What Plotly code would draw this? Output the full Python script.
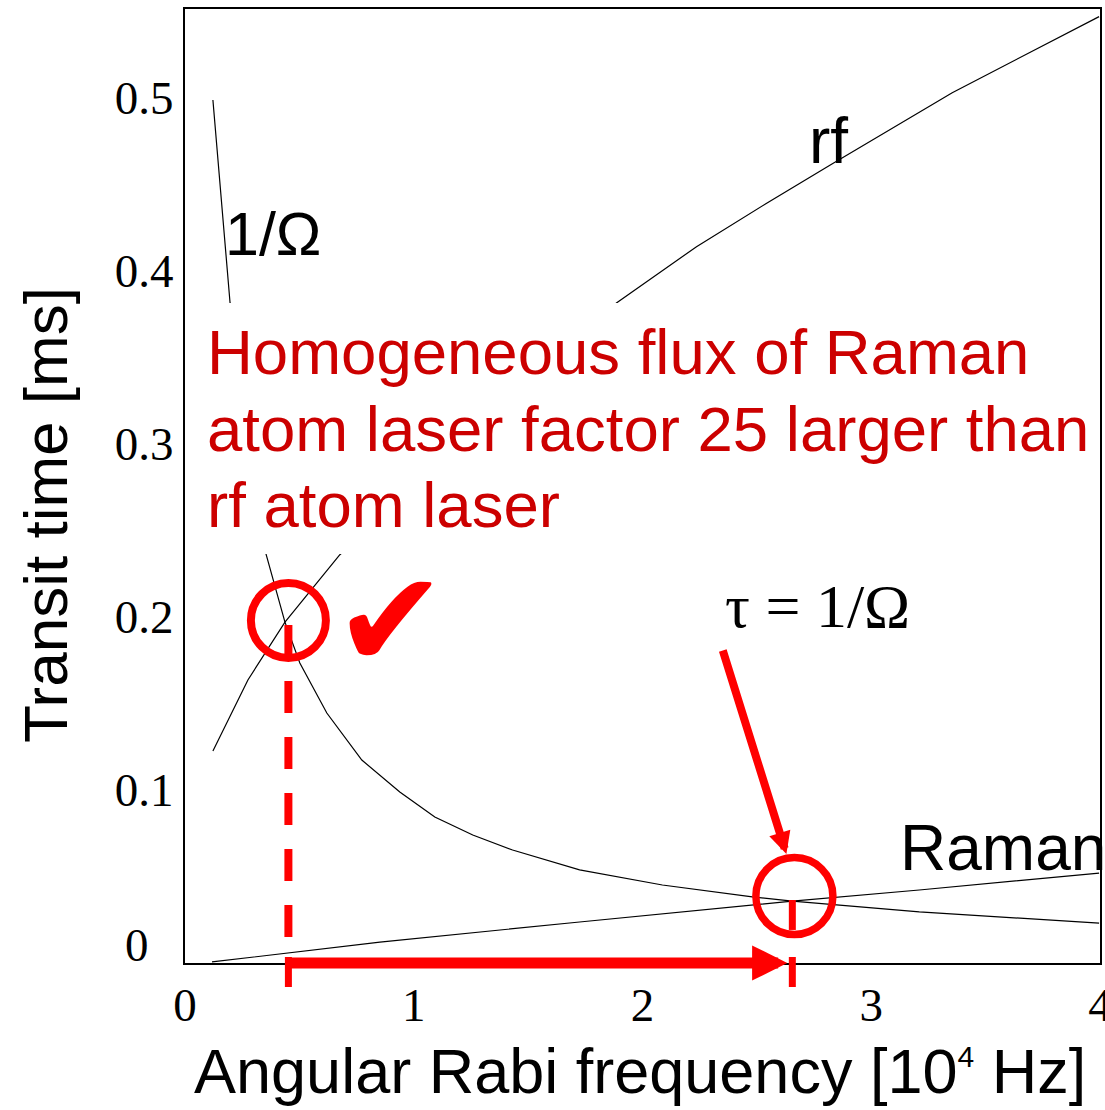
import plotly.graph_objects as go

# ---------------- data ----------------
rf_x = [0.122, 0.275, 0.437, 0.677, 1.886, 2.236, 2.541, 2.830, 3.354, 3.703, 3.996]
rf_y = [0.1225, 0.1636, 0.197, 0.236, 0.3815, 0.414, 0.439, 0.462, 0.503, 0.527, 0.547]

inv_x = [0.122, 0.197, 0.354, 0.437, 0.502, 0.620, 0.773, 0.939, 1.092, 1.258,
         1.432, 1.725, 2.087, 2.480, 2.655, 3.210, 3.996]
inv_y = [0.4988, 0.3815, 0.2364, 0.197, 0.1734, 0.1445, 0.1173, 0.0988, 0.0844, 0.074,
         0.0653, 0.0538, 0.0451, 0.0382, 0.0358, 0.0295, 0.0231]

raman_x = [0.118, 0.852, 1.725, 2.655, 3.210, 3.996]
raman_y = [0.0006, 0.0121, 0.0237, 0.0358, 0.0422, 0.052]

x_ticks = [0, 1, 2, 3, 4]
x_tick_labels = ["0", "1", "2", "3", "4"]
y_ticks = [0.1, 0.2, 0.3, 0.4, 0.5]
y_tick_labels = ["0.1", "0.2", "0.3", "0.4", "0.5"]

# crossing points marked on the chart
cross_rf = (0.452, 0.198)
cross_raman = (2.664, 0.0387)

# ---------------- layout geometry ----------------
W, H = 1105, 1110
ML, MR, MT, MB = 185, 5, 9, 147
PW, PH = W - ML - MR, H - MT - MB
XMAX, YMAX = 4.0, 0.5514


def px(xp):
    return (xp - ML) / PW


def py(yp):
    return (H - MB - yp) / PH


SERIF = "Liberation Serif, Times New Roman, serif"
SANS = "Liberation Sans, Arial, sans-serif"
RED = "#ff0000"
DARKRED = "#cc0000"

fig = go.Figure()
for xs, ys in [(rf_x, rf_y), (inv_x, inv_y), (raman_x, raman_y)]:
    fig.add_trace(go.Scatter(x=xs, y=ys, mode="lines",
                             line=dict(color="black", width=1.2),
                             showlegend=False, hoverinfo="skip"))

shapes = []
# white panel behind the red statement
shapes.append(dict(type="rect", xref="x", yref="y", x0=0.012, x1=3.985,
                   y0=0.2364, y1=0.3815, fillcolor="white",
                   line=dict(width=0), layer="above"))
# circle at rf crossing
rx1, ry1 = 37.5 / PW * XMAX, 37.5 / PH * YMAX
shapes.append(dict(type="circle", xref="x", yref="y",
                   x0=cross_rf[0] - rx1, x1=cross_rf[0] + rx1,
                   y0=cross_rf[1] - ry1, y1=cross_rf[1] + ry1,
                   line=dict(color=RED, width=8), layer="above"))
# circle at Raman crossing
rx2, ry2 = 38.5 / PW * XMAX, 38.5 / PH * YMAX
shapes.append(dict(type="circle", xref="x", yref="y",
                   x0=cross_raman[0] - rx2, x1=cross_raman[0] + rx2,
                   y0=cross_raman[1] - ry2, y1=cross_raman[1] + ry2,
                   line=dict(color=RED, width=7.5), layer="above"))
# dashed drop line
shapes.append(dict(type="line", xref="x", yref="y", x0=0.452, x1=0.452,
                   y0=0.1954, y1=0.015,
                   line=dict(color=RED, width=8, dash="32px,24px"), layer="above"))
# small drop line inside the right circle
shapes.append(dict(type="line", xref="x", yref="y", x0=2.655, x1=2.655,
                   y0=0.0364, y1=0.0191,
                   line=dict(color=RED, width=7), layer="above"))
# end ticks of the horizontal arrow
for xv in (0.452, 2.655):
    shapes.append(dict(type="line", xref="x", yref="paper", x0=xv, x1=xv,
                       y0=py(987), y1=py(957),
                       line=dict(color=RED, width=7), layer="above"))

ann = []
# horizontal arrow
ann.append(dict(x=2.633, y=0, ax=0.452, ay=0, xref="x", yref="y",
                axref="x", ayref="y", text="", showarrow=True,
                arrowhead=2, arrowwidth=11, arrowsize=0.64, arrowcolor=RED,
                standoff=0, startstandoff=0))
# diagonal arrow
ann.append(dict(x=2.629, y=0.063, ax=2.349, ay=0.1815, xref="x", yref="y",
                axref="x", ayref="y", text="", showarrow=True,
                arrowhead=2, arrowwidth=8, arrowsize=0.55, arrowcolor=RED,
                standoff=0, startstandoff=0))


def label(text, xp, yp, size, family=SANS, color="black", xanchor="center"):
    ann.append(dict(x=px(xp), y=py(yp), xref="paper", yref="paper", text=text,
                    showarrow=False, xanchor=xanchor, yanchor="middle",
                    font=dict(family=family, size=size, color=color)))


label("1/Ω", 273, 234, 61)
label("rf", 828, 141, 64)
label("Raman", 1003, 848, 64)
label("τ = 1/Ω", 817, 606, 62, family=SERIF)
label("✔", 390, 620, 135, family="DejaVu Sans", color=RED)
label("Homogeneous flux of Raman", 205, 352, 63.5, color=DARKRED, xanchor="left")
label("atom laser factor 25 larger than", 205, 429, 63.5, color=DARKRED, xanchor="left")
label("rf atom laser", 205, 505, 63.5, color=DARKRED, xanchor="left")
label("0", 137, 945, 47, family=SERIF)
label("Angular Rabi frequency [10<sup><span style='font-size:30px'>4</span></sup> Hz]",
      640, 1071, 63)
ann.append(dict(x=px(45), y=py(515), xref="paper", yref="paper",
                text="Transit time [ms]", showarrow=False, textangle=-90,
                xanchor="center", yanchor="middle",
                font=dict(family=SANS, size=62, color="black")))

fig.update_layout(
    width=W, height=H,
    margin=dict(l=ML, r=MR, t=MT, b=MB, pad=0, autoexpand=False),
    paper_bgcolor="white", plot_bgcolor="white",
    shapes=shapes, annotations=ann,
    xaxis=dict(range=[0, XMAX], showgrid=False, zeroline=False, automargin=False,
               showline=True, mirror=True, linecolor="black", linewidth=2,
               ticks="", tickvals=x_ticks, ticktext=x_tick_labels,
               ticklabelstandoff=0, ticklabeloverflow="allow",
               tickfont=dict(family=SERIF, size=47, color="black")),
    yaxis=dict(range=[0, YMAX], showgrid=False, zeroline=False, automargin=False,
               showline=True, mirror=True, linecolor="black", linewidth=2,
               ticks="", tickvals=y_ticks, ticktext=y_tick_labels,
               ticklabelstandoff=0,
               tickfont=dict(family=SERIF, size=47, color="black")),
)

fig.write_html("out.html")
